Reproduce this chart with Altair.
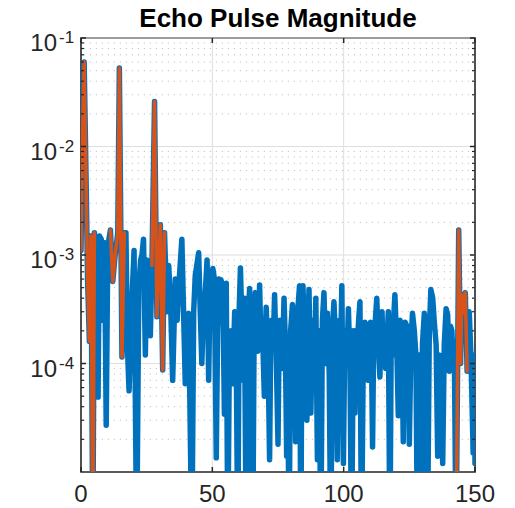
import altair as alt
import pandas as pd

TITLE = "Echo Pulse Magnitude"

# Blue trace (full echo magnitude): (x, value) samples
blue_samples = [
    (0.0, 1.1e-3), (0.3, 4.5e-3), (1.2, 6.0e-2), (2.0, 4.0e-3), (2.5, 6.0e-4), (3.2, 1.6e-4),
    (3.8, 1.5e-3), (4.5, 2e-6), (5.1, 1.6e-3), (5.9, 2.0e-4), (6.5, 4.9e-5), (7.0, 1.5e-3),
    (7.7, 1.4e-3), (8.3, 2.5e-4), (9.0, 1.3e-3), (9.6, 2.7e-5), (10.2, 1.2e-3), (11.2, 1.7e-3),
    (12.1, 5.7e-4), (13.0, 1.0e-3), (14.0, 1.6e-3), (14.6, 5.3e-2), (15.6, 1.15e-4),
    (16.5, 1.6e-3), (17.1, 1.6e-3), (17.7, 1.4e-4), (18.3, 5.6e-5), (19.2, 3.0e-4),
    (20.2, 1.1e-3), (21.2, 2e-6), (22.0, 5.0e-4), (22.7, 9.0e-4), (23.2, 1.0e-3),
    (23.8, 1.4e-3), (24.5, 1.2e-4), (25.1, 9.0e-4), (25.7, 8.0e-4), (26.4, 1.8e-4),
    (27.0, 8.0e-4), (28.0, 2.6e-2), (28.9, 2.7e-4), (30.2, 1.9e-3), (31.1, 8.7e-5),
    (31.8, 1.6e-3), (32.7, 3.0e-4), (33.4, 8.0e-4), (34.2, 3.0e-4), (34.9, 7.0e-5),
    (35.9, 6.0e-4), (36.6, 2.5e-4), (37.2, 5.0e-4), (38.4, 1.4e-3), (39.7, 6.5e-5),
    (40.3, 2.5e-4), (41.0, 2.9e-4), (42.2, 2e-6), (42.9, 3.0e-4), (43.5, 6.5e-4),
    (44.8, 1.05e-3), (45.4, 3.0e-4), (46.0, 1.0e-4), (46.6, 3.0e-4), (47.3, 4.5e-4),
    (48.0, 9.0e-4), (48.6, 7.0e-5), (49.0, 3.0e-4), (49.4, 7.0e-4), (49.8, 2.5e-4),
    (50.2, 7.5e-4), (50.8, 6.0e-4), (51.5, 1.35e-5), (52.0, 2.0e-4), (52.5, 6.0e-4),
    (52.9, 2.5e-4), (53.3, 5.9e-4), (54.0, 5.0e-4), (54.6, 3.4e-5), (55.0, 2.0e-4),
    (55.3, 5.5e-4), (55.9, 2e-6), (56.5, 1.5e-4), (57.2, 2.0e-4), (57.8, 6.5e-5),
    (58.5, 3.0e-4), (59.1, 1.2e-4), (59.7, 2e-6), (60.2, 3.0e-4), (60.7, 7.6e-4),
    (61.2, 2.5e-4), (61.6, 7.0e-5), (62.2, 4.0e-4), (62.9, 2e-6), (63.5, 2.5e-4),
    (64.2, 4.9e-4), (64.8, 2.0e-4), (65.4, 2e-6), (65.9, 2.0e-4), (66.4, 4.5e-4),
    (66.9, 2.0e-4), (67.3, 1.3e-4), (68.0, 5.3e-4), (68.5, 1.5e-4), (69.0, 2.5e-4),
    (69.8, 5.0e-5), (70.2, 2.0e-4), (70.5, 3.3e-4), (71.2, 1.2e-4), (71.8, 1.3e-5),
    (72.2, 1.5e-4), (72.6, 2.5e-4), (73.2, 1.5e-4), (73.7, 4.3e-4), (74.4, 1.0e-4),
    (75.0, 1.8e-5), (75.4, 1.5e-4), (75.8, 2.5e-4), (76.2, 1.2e-4), (76.6, 9.0e-5),
    (77.3, 4.0e-4), (77.8, 1.5e-4), (78.3, 1.4e-5), (78.7, 1.2e-4), (79.2, 2e-6),
    (79.8, 2.0e-4), (80.5, 3.5e-4), (81.1, 1.5e-4), (81.7, 1.9e-5), (82.1, 1.5e-4),
    (82.5, 3.0e-4), (83.2, 5.2e-4), (83.7, 2e-6), (84.1, 2.5e-4), (84.5, 5.2e-4),
    (84.9, 2.5e-4), (85.3, 2.0e-4), (86.0, 3.0e-5), (86.4, 2.0e-4), (86.8, 4.8e-4),
    (87.5, 3.5e-5), (88.0, 1.5e-4), (88.5, 2.5e-4), (89.0, 1.5e-4), (89.4, 4.0e-4),
    (90.0, 1.3e-5), (90.6, 2.0e-4), (91.3, 2e-6), (91.9, 2.5e-4), (92.5, 4.5e-4),
    (93.2, 1.0e-4), (93.8, 2.9e-4), (94.5, 8.0e-5), (95.1, 2e-6), (95.7, 2.0e-4),
    (96.3, 3.7e-4), (97.0, 1.5e-4), (97.6, 1.3e-5), (98.0, 1.5e-4), (98.5, 2.5e-4),
    (98.9, 1.5e-4), (99.3, 5.2e-4), (99.9, 1.2e-5), (100.4, 1.5e-4), (100.8, 2.0e-4),
    (101.3, 1.2e-4), (101.8, 3.2e-4), (102.4, 1.0e-4), (103.0, 2e-6), (103.7, 2.0e-4),
    (104.3, 3.5e-5), (104.8, 2.0e-4), (105.2, 1.5e-4), (105.7, 2.5e-4), (106.2, 3.7e-4),
    (106.8, 2e-6), (107.5, 1.5e-4), (108.1, 2.4e-4), (108.8, 1.5e-4), (109.4, 7.0e-5),
    (109.8, 1.8e-4), (110.2, 2.4e-4), (110.6, 1.2e-4), (111.0, 1.7e-5), (111.4, 1.5e-4),
    (111.8, 2.0e-4), (112.6, 4.0e-4), (113.2, 1.5e-4), (113.8, 7.5e-5), (114.2, 2.0e-4),
    (114.6, 3.0e-4), (115.0, 1.2e-4), (115.5, 2.0e-4), (116.0, 9.0e-5), (116.4, 1.4e-4),
    (117.0, 3.0e-4), (117.6, 2e-6), (118.1, 1.8e-4), (118.5, 1.2e-4), (119.0, 2.5e-4),
    (119.5, 4.3e-4), (120.2, 1.5e-4), (120.8, 3.3e-5), (121.2, 1.5e-4), (121.5, 2.5e-4),
    (122.1, 1.8e-4), (122.7, 1.9e-5), (123.1, 1.5e-4), (123.4, 2.4e-4), (124.1, 2.2e-4),
    (124.6, 1.0e-4), (125.0, 1.8e-5), (125.6, 1.5e-4), (126.2, 2.9e-4), (126.9, 2.0e-4),
    (127.5, 1.2e-4), (128.1, 2e-6), (128.7, 1.2e-4), (129.4, 2e-6), (130.0, 1.5e-4),
    (130.7, 2.9e-4), (131.3, 1.5e-4), (131.9, 2e-6), (132.6, 2.0e-4), (133.2, 4.8e-4),
    (133.9, 4.0e-4), (134.5, 2.4e-4), (135.2, 1.5e-4), (135.8, 1.4e-5), (136.4, 1.2e-4),
    (137.0, 6.6e-5), (137.7, 1.2e-5), (138.3, 1.5e-4), (139.0, 3.2e-4), (139.6, 2.8e-4),
    (140.2, 8.5e-5), (140.7, 2.2e-4), (141.2, 2.0e-4), (141.6, 1.0e-4), (142.1, 1.6e-4),
    (142.8, 2e-6), (143.8, 1.7e-3), (144.5, 1.0e-4), (145.0, 4.3e-4), (145.6, 2.9e-4),
    (146.3, 4.5e-4), (147.0, 8.5e-5), (147.8, 3.0e-4), (148.5, 1.1e-4), (149.3, 1.5e-5),
    (149.8, 1.2e-4), (150.0, 1.2e-5),
]

# Orange trace (gated echoes) covers these x windows of the same signal
orange_windows = [(0.0, 5.1), (11.2, 16.5), (27.0, 31.8), (142.8, 147.0)]

x_tick_values = [0, 50, 100, 150]
x_grid_values = [50, 100]
y_major_values = [1e-4, 1e-3, 1e-2, 1e-1]
y_exponent_labels = ["-4", "-3", "-2", "-1"]
y_minor_values = [2e-5, 3e-5, 4e-5, 5e-5, 6e-5, 7e-5, 8e-5, 9e-5,
                  2e-4, 3e-4, 4e-4, 5e-4, 6e-4, 7e-4, 8e-4, 9e-4,
                  2e-3, 3e-3, 4e-3, 5e-3, 6e-3, 7e-3, 8e-3, 9e-3,
                  2e-2, 3e-2, 4e-2, 5e-2, 6e-2, 7e-2, 8e-2, 9e-2]

W, H = 394, 434
FONT = "Liberation Sans"
BLUE = "#0072BD"
ORANGE = "#D95319"

blue_df = pd.DataFrame(blue_samples, columns=["x", "y"])
orange_parts = []
for i, (a, b) in enumerate(orange_windows):
    part = blue_df[(blue_df.x >= a) & (blue_df.x <= b)].copy()
    part["seg"] = i
    orange_parts.append(part)
orange_df = pd.concat(orange_parts, ignore_index=True)

xs = alt.Scale(domain=[0, 150], nice=False, zero=False)
ys = alt.Scale(type="log", domain=[1e-5, 1e-1], nice=False)

X = lambda f: alt.X(f, type="quantitative", scale=xs, axis=None)
Y = lambda f: alt.Y(f, type="quantitative", scale=ys, axis=None)

xg_df = pd.DataFrame({"x": x_grid_values})
yg_df = pd.DataFrame({"y": y_major_values})
ym_df = pd.DataFrame({"y": y_minor_values})
xt_df = pd.DataFrame({"x": x_tick_values, "t": [str(v) for v in x_tick_values]})
yl_df = pd.DataFrame({"y": y_major_values, "e": y_exponent_labels, "b": ["10"] * 4})
title_df = pd.DataFrame({"t": [TITLE]})

grid_x = alt.Chart(xg_df).mark_rule(color="#dedede", strokeWidth=1).encode(x=X("x"))
grid_y = alt.Chart(yg_df).mark_rule(color="#dedede", strokeWidth=1).encode(y=Y("y"))
grid_minor = alt.Chart(ym_df).mark_rule(color="#c4c4c4", strokeWidth=1, strokeDash=[1.2, 4.8]).encode(y=Y("y"))

blue = alt.Chart(blue_df).mark_line(color=BLUE, strokeWidth=5.5, strokeJoin="round",
                                    strokeCap="round", clip=True).encode(x=X("x"), y=Y("y"))
orange = alt.Chart(orange_df).mark_line(color=ORANGE, strokeWidth=3.5, strokeJoin="round",
                                        strokeCap="round", clip=True).encode(
    x=X("x"), y=Y("y"), detail="seg:N")

tick_col = "#262626"
yt_left = alt.Chart(yg_df).mark_rule(color=tick_col, strokeWidth=1.5).encode(
    y=Y("y"), x=alt.value(0), x2=alt.value(5))
yt_right = alt.Chart(yg_df).mark_rule(color=tick_col, strokeWidth=1.5).encode(
    y=Y("y"), x=alt.value(W - 5), x2=alt.value(W))
ym_left = alt.Chart(ym_df).mark_rule(color=tick_col, strokeWidth=1.2).encode(
    y=Y("y"), x=alt.value(0), x2=alt.value(3))
ym_right = alt.Chart(ym_df).mark_rule(color=tick_col, strokeWidth=1.2).encode(
    y=Y("y"), x=alt.value(W - 3), x2=alt.value(W))
xt_bottom = alt.Chart(xt_df).mark_rule(color=tick_col, strokeWidth=1.5).encode(
    x=X("x"), y=alt.value(H - 5), y2=alt.value(H))
xt_top = alt.Chart(xt_df).mark_rule(color=tick_col, strokeWidth=1.5).encode(
    x=X("x"), y=alt.value(0), y2=alt.value(5))

x_labels = alt.Chart(xt_df).mark_text(font=FONT, fontSize=24, color="#262626",
                                      align="center", baseline="top").encode(
    x=X("x"), y=alt.value(H + 11), text="t:N")
y_base = alt.Chart(yl_df).mark_text(font=FONT, fontSize=24, color="#262626",
                                    align="right", baseline="middle", dy=6).encode(
    y=Y("y"), x=alt.value(-24), text="b:N")
y_exp = alt.Chart(yl_df).mark_text(font=FONT, fontSize=17, color="#262626",
                                   align="left", baseline="middle", dy=0).encode(
    y=Y("y"), x=alt.value(-22), text="e:N")
title = alt.Chart(title_df).mark_text(font=FONT, fontSize=26, fontWeight="bold", color="#000000",
                                      align="center", baseline="alphabetic").encode(
    x=alt.value(W / 2), y=alt.value(-11), text="t:N")

chart = alt.layer(
    grid_x, grid_y, grid_minor, blue, orange,
    yt_left, yt_right, ym_left, ym_right, xt_bottom, xt_top,
    x_labels, y_base, y_exp, title
).properties(
    width=W, height=H,
    autosize=alt.AutoSizeParams(type="none"),
    padding={"left": 81, "top": 38, "right": 40, "bottom": 36},
    background="white",
).configure_view(stroke="#262626", strokeWidth=1.6)

chart.save("out.html", embed_options={"renderer": "svg", "actions": False})
